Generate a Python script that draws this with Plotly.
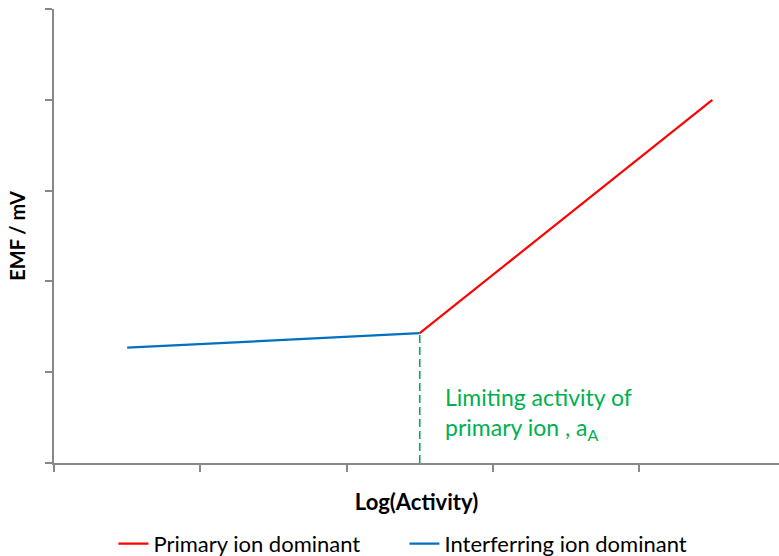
import plotly.graph_objects as go

# Log(activity) positions and EMF values (arbitrary units)
interf_x = [0.5, 2.5]
interf_y = [1.27, 1.43]
primary_x = [2.5, 4.5]
primary_y = [1.43, 4.0]
limit_x = [2.5, 2.5]
limit_y = [0.0, 1.43]

x_ticks = [0, 1, 2, 3, 4, 5]
y_ticks = [0, 1, 2, 3, 4, 5]

RED = "#FF0000"
BLUE = "#0070C0"
GREEN = "#00B050"
AXIS = "#888888"
FONT = "Lato, Open Sans, sans-serif"

fig = go.Figure()

fig.add_trace(go.Scatter(
    x=primary_x, y=primary_y, mode="lines", name="Primary ion dominant",
    line=dict(color=RED, width=2.2),
))
fig.add_trace(go.Scatter(
    x=interf_x, y=interf_y, mode="lines", name="Interferring ion dominant",
    line=dict(color=BLUE, width=2.2),
))
fig.add_trace(go.Scatter(
    x=limit_x, y=limit_y, mode="lines", showlegend=False,
    line=dict(color=GREEN, width=1.6, dash="8px,4px"),
))

fig.add_annotation(
    x=2.5, y=0, xref="x", yref="y",
    xanchor="left", yanchor="bottom", xshift=23, yshift=17,
    text="Limiting activity of<br>primary ion , a<sub>A</sub>",
    showarrow=False, align="left",
    font=dict(family=FONT, size=23, color=GREEN),
)

fig.update_layout(
    width=779, height=556,
    margin=dict(l=54, r=0, t=9, b=93, autoexpand=False),
    paper_bgcolor="white", plot_bgcolor="white",
    font=dict(family=FONT, color="black"),
    showlegend=True,
    legend=dict(
        orientation="h", x=0.082, xanchor="left", y=-0.178, yanchor="middle",
        font=dict(family=FONT, size=22, color="black"),
        itemwidth=30, entrywidth=246, entrywidthmode="pixels",
    ),
    xaxis=dict(
        range=[0, 725 / 146.3], tickvals=x_ticks, showticklabels=False,
        ticks="outside", ticklen=7, tickcolor=AXIS, tickwidth=1.5,
        showline=True, linecolor=AXIS, linewidth=1.5,
        showgrid=False, zeroline=False,
        title=dict(text="<b>Log(Activity)</b>", standoff=24,
                   font=dict(family=FONT, size=22, color="black")),
    ),
    yaxis=dict(
        range=[0, 5], tickvals=y_ticks, showticklabels=False,
        ticks="outside", ticklen=7, tickcolor=AXIS, tickwidth=1.5,
        showline=True, linecolor=AXIS, linewidth=1.5,
        showgrid=False, zeroline=False,
        title=dict(text="<b>EMF / mV</b>", standoff=14,
                   font=dict(family=FONT, size=20, color="black")),
    ),
)

fig.write_html("out.html")
